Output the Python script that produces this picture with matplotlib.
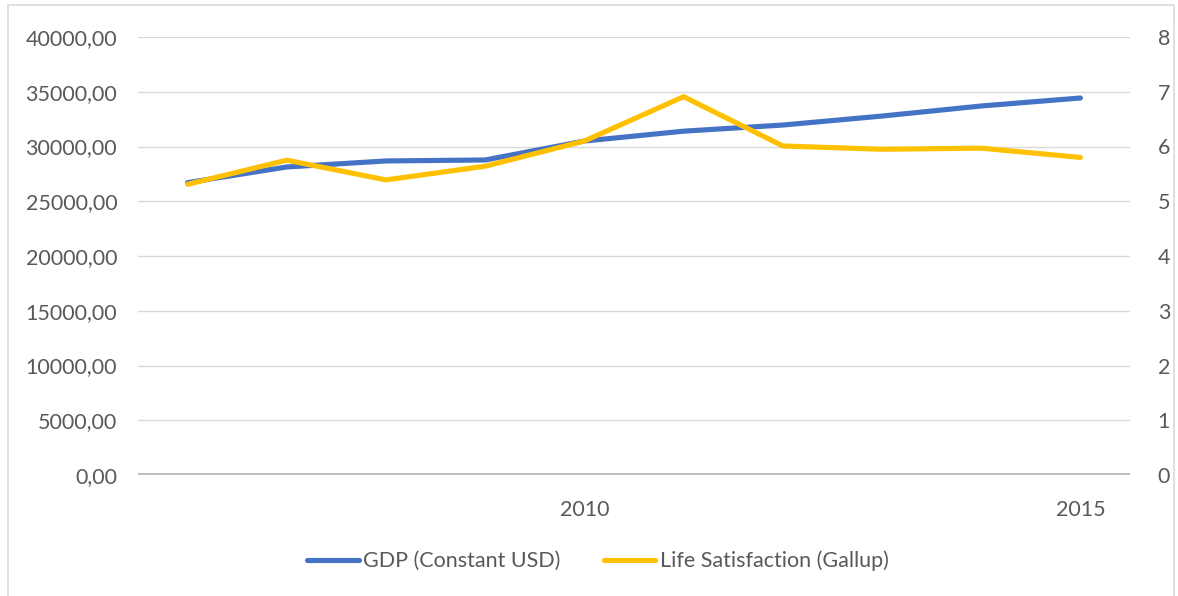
import matplotlib.pyplot as plt
from matplotlib.patches import Rectangle
from matplotlib.lines import Line2D
from matplotlib.ticker import FuncFormatter

plt.rcParams['font.family'] = ['Lato', 'DejaVu Sans']

years = [2006, 2007, 2008, 2009, 2010, 2011, 2012, 2013, 2014, 2015]
gdp = [26700, 28130, 28680, 28770, 30500, 31400, 31960, 32780, 33700, 34430]
life_sat = [5.31, 5.75, 5.39, 5.64, 6.10, 6.91, 6.01, 5.95, 5.97, 5.80]

blue = "#4472C4"
yellow = "#FFC000"
grey_txt = "#595959"

fig = plt.figure(figsize=(11.78, 5.96), dpi=100)
fig.patches.append(Rectangle((8 / 1178, -0.01), 1166 / 1178, 1 - 5 / 596 + 0.01,
                             transform=fig.transFigure, fill=False,
                             edgecolor="#D9D9D9", lw=1.2))

ax = fig.add_axes([138 / 1178, 1 - 475 / 596, 992 / 1178, 438 / 596])
ax2 = ax.twinx()

ax.plot(years, gdp, color=blue, lw=3.7, solid_capstyle="round", zorder=3)
ax2.plot(years, life_sat, color=yellow, lw=3.7, solid_capstyle="round", zorder=3)

ax.set_xlim(2005.5, 2015.5)
ax.set_ylim(0, 40000)
ax2.set_ylim(0, 8)
ax.set_yticks(range(0, 40001, 5000))
ax2.set_yticks(range(0, 9))
ax.yaxis.set_major_formatter(FuncFormatter(lambda v, p: f"{v:.2f}".replace(".", ",")))
ax.set_xticks([2010, 2015])
ax.set_xticklabels(["2010", "2015"])

ax.grid(axis="y", color="#D9D9D9", lw=1)
ax.set_axisbelow(True)
for a in (ax, ax2):
    for s in a.spines.values():
        s.set_visible(False)
    a.tick_params(length=0, labelsize=15.5, colors=grey_txt)
ax.axhline(0, color="#BFBFBF", lw=2.8, zorder=2)
ax.tick_params(axis="y", pad=15)
ax.tick_params(axis="x", pad=18)
ax2.tick_params(axis="y", pad=20)

handles = [Line2D([], [], color=blue, lw=3.7, solid_capstyle="round"),
           Line2D([], [], color=yellow, lw=3.7, solid_capstyle="round")]
fig.legend(handles, ["GDP (Constant USD)", "Life Satisfaction (Gallup)"],
           loc="center", bbox_to_anchor=(598 / 1178, 1 - 561 / 596), ncol=2,
           frameon=False, fontsize=15.5, labelcolor=grey_txt,
           handlelength=2.4, handletextpad=0.2, columnspacing=2.0)

fig.savefig("out.png", dpi=100)
